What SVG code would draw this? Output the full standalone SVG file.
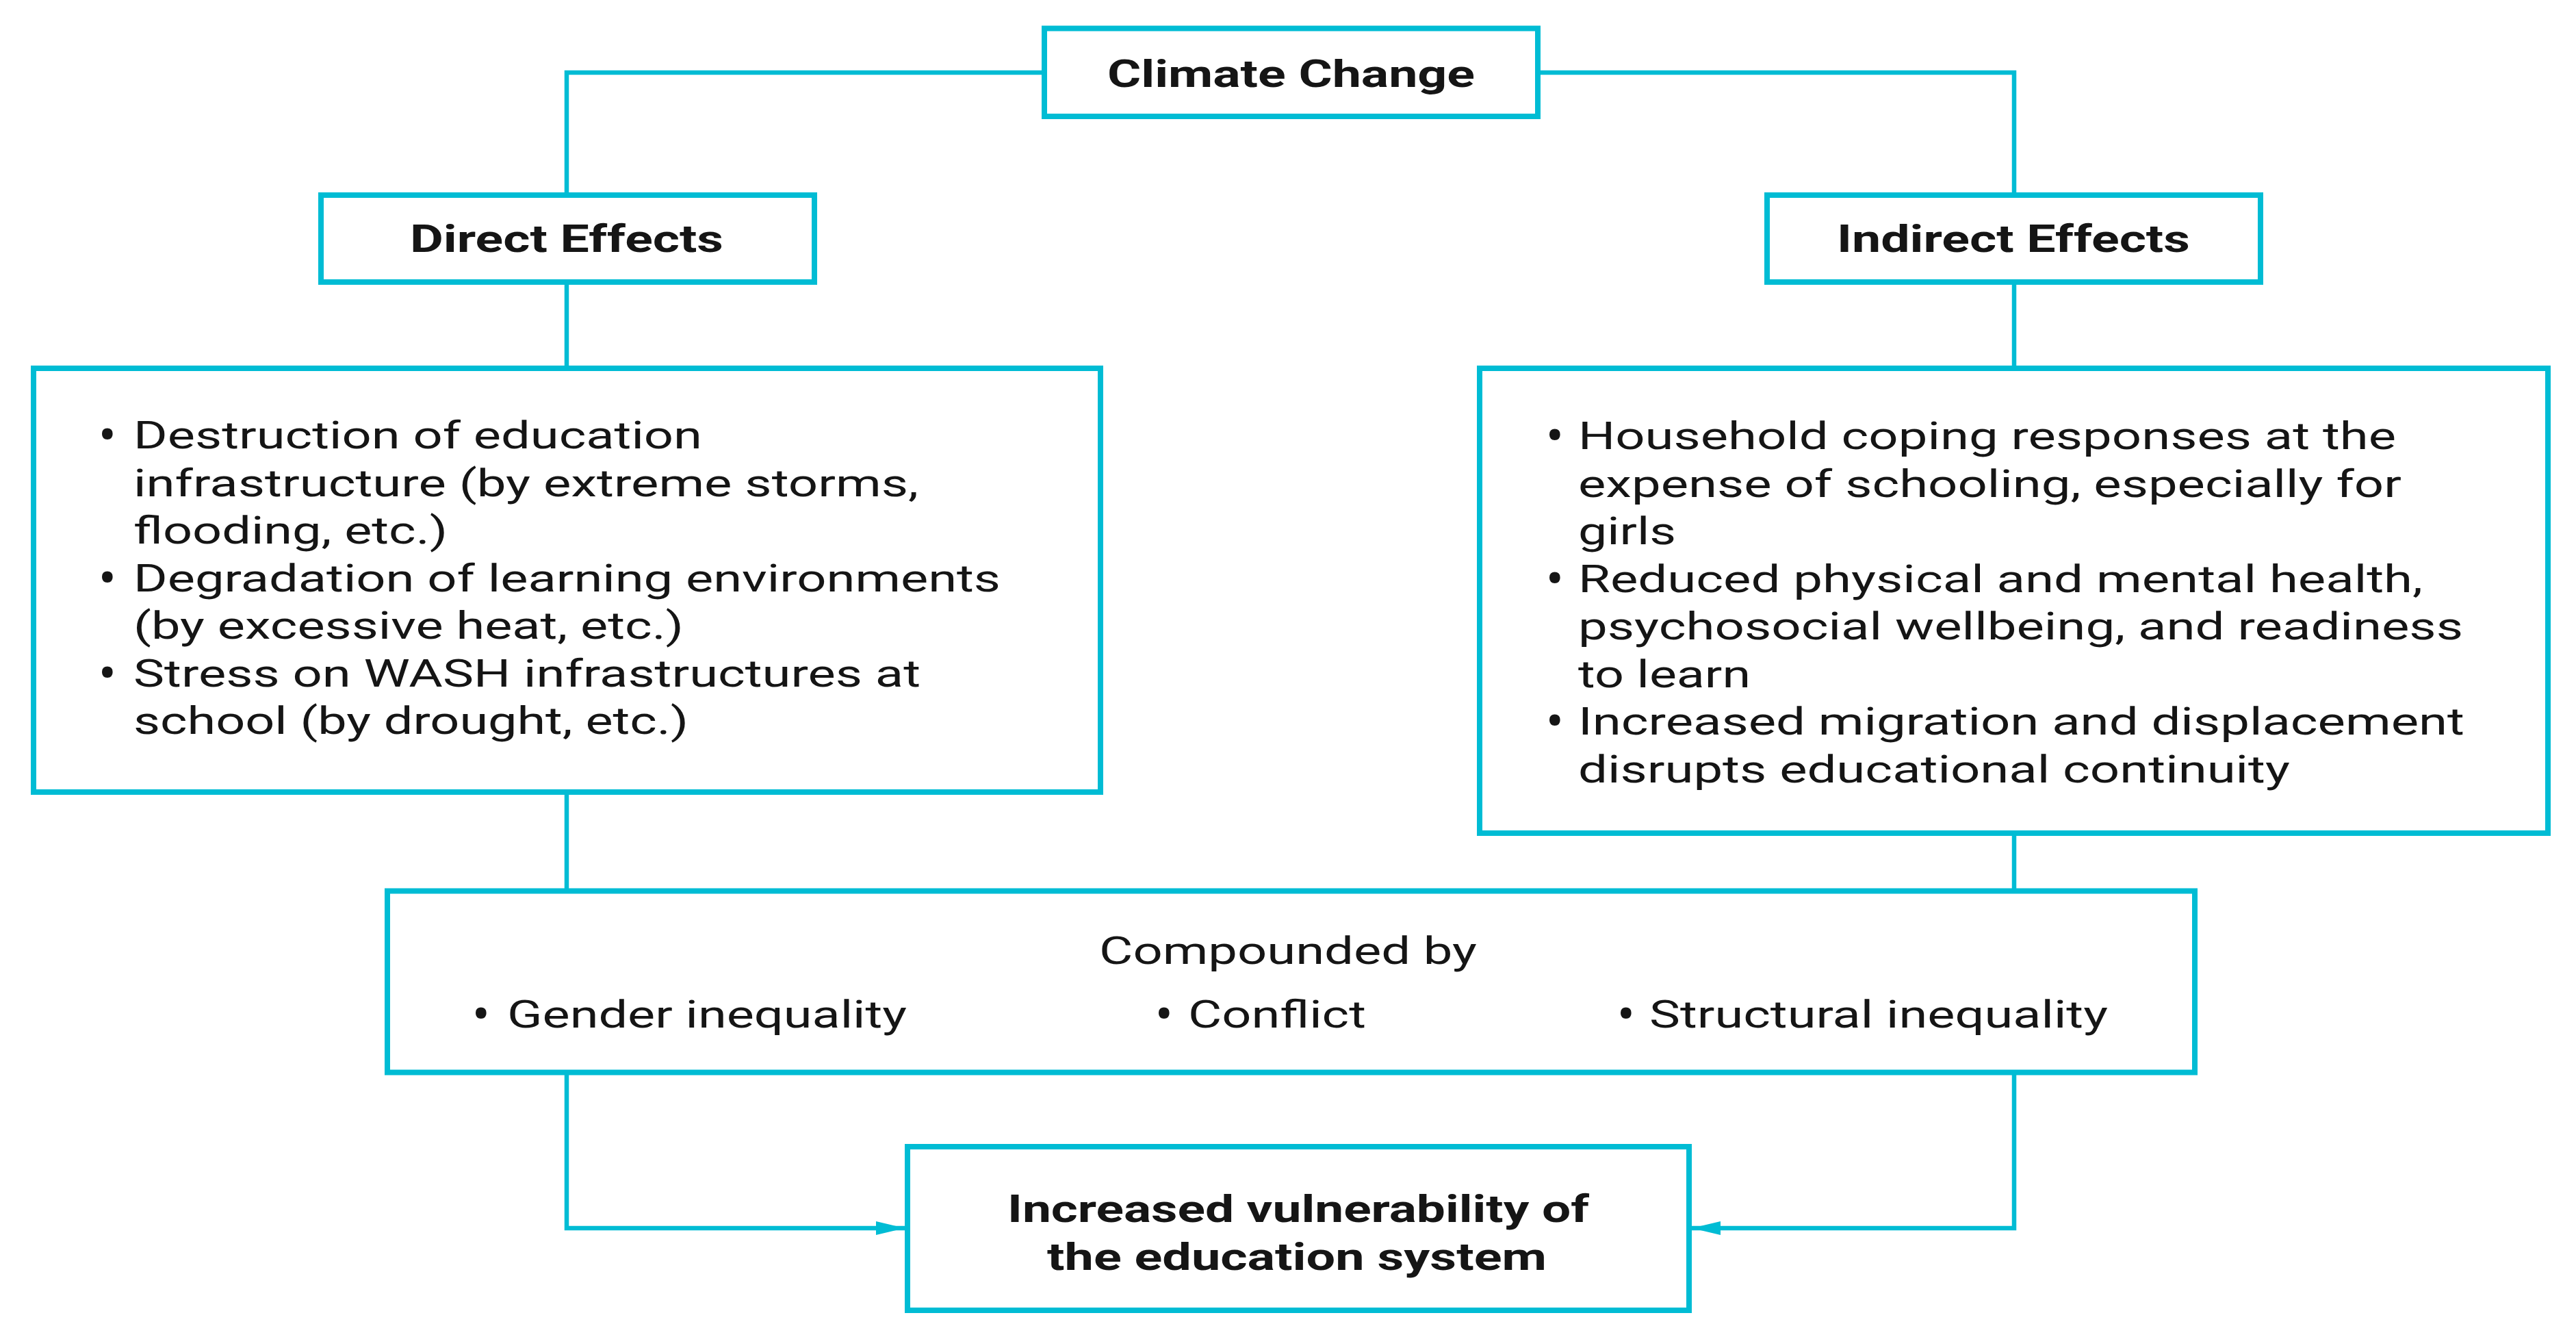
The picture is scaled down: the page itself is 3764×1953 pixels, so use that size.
<svg xmlns="http://www.w3.org/2000/svg" width="3764" height="1953" viewBox="0 0 3764 1953">
<style>
  .box { fill: #ffffff; stroke: #00bcd4; stroke-width: 8; }
  .conn { fill: none; stroke: #00bcd4; stroke-width: 6.5; }
  text { font-family: Roboto, "Liberation Sans", sans-serif; font-size: 56px; fill: #151515; }
  .title { font-weight: 700; }
  .bul { font-size: 78px; text-anchor: middle; }
</style>
<defs>
  <marker id="arrow" markerUnits="userSpaceOnUse" markerWidth="44" markerHeight="22" refX="42" refY="11" orient="auto">
    <path d="M0,1 L42,11 L0,21 Z" fill="#00bcd4"/>
  </marker>
</defs>
<rect x="0" y="0" width="3764" height="1953" fill="#ffffff"/>

<g id="connectors">
  <path class="conn" d="M1526,106 H828 V285"/>
  <path class="conn" d="M2247,106 H2943 V285"/>
  <path class="conn" d="M828,412 V538"/>
  <path class="conn" d="M2943,412 V538"/>
  <path class="conn" d="M828,1157 V1301"/>
  <path class="conn" d="M2943,1217 V1301"/>
  <path class="conn" d="M828,1566 V1794 H1322" marker-end="url(#arrow)"/>
  <path class="conn" d="M2943,1566 V1794 H2472" marker-end="url(#arrow)"/>
</g>

<g id="climate-change">
  <rect class="box" x="1526" y="41.5" width="721" height="128.5"/>
  <text class="title" x="1618" y="127" textLength="537" lengthAdjust="spacingAndGlyphs">Climate Change</text>
</g>

<g id="direct-effects">
  <rect class="box" x="469" y="285" width="721" height="127"/>
  <text class="title" x="599" y="368" textLength="458" lengthAdjust="spacingAndGlyphs">Direct Effects</text>
</g>

<g id="indirect-effects">
  <rect class="box" x="2582" y="285" width="721" height="127"/>
  <text class="title" x="2684" y="368" textLength="516" lengthAdjust="spacingAndGlyphs">Indirect Effects</text>
</g>

<g id="direct-list">
  <rect class="box" x="49" y="538" width="1559" height="619"/>
  <text class="bul" x="157" y="662">•</text>
  <text x="195" y="655" textLength="831" lengthAdjust="spacingAndGlyphs">Destruction of education</text>
  <text x="195" y="724.5" textLength="1147" lengthAdjust="spacingAndGlyphs">infrastructure (by extreme storms,</text>
  <text x="195" y="794" textLength="459" lengthAdjust="spacingAndGlyphs">flooding, etc.)</text>
  <text class="bul" x="157" y="870.5">•</text>
  <text x="195" y="863.5" textLength="1267" lengthAdjust="spacingAndGlyphs">Degradation of learning environments</text>
  <text x="195" y="933" textLength="804" lengthAdjust="spacingAndGlyphs">(by excessive heat, etc.)</text>
  <text class="bul" x="157" y="1009.5">•</text>
  <text x="195" y="1002.5" textLength="1150" lengthAdjust="spacingAndGlyphs">Stress on WASH infrastructures at</text>
  <text x="195" y="1072" textLength="811" lengthAdjust="spacingAndGlyphs">school (by drought, etc.)</text>
</g>

<g id="indirect-list">
  <rect class="box" x="2162" y="538" width="1561" height="679"/>
  <text class="bul" x="2272" y="663">•</text>
  <text x="2306" y="656" textLength="1195" lengthAdjust="spacingAndGlyphs">Household coping responses at the</text>
  <text x="2306" y="725.5" textLength="1203" lengthAdjust="spacingAndGlyphs">expense of schooling, especially for</text>
  <text x="2306" y="795" textLength="143" lengthAdjust="spacingAndGlyphs">girls</text>
  <text class="bul" x="2272" y="871.5">•</text>
  <text x="2306" y="864.5" textLength="1234" lengthAdjust="spacingAndGlyphs">Reduced physical and mental health,</text>
  <text x="2306" y="934" textLength="1293" lengthAdjust="spacingAndGlyphs">psychosocial wellbeing, and readiness</text>
  <text x="2306" y="1003.5" textLength="252" lengthAdjust="spacingAndGlyphs">to learn</text>
  <text class="bul" x="2272" y="1080">•</text>
  <text x="2306" y="1073" textLength="1295" lengthAdjust="spacingAndGlyphs">Increased migration and displacement</text>
  <text x="2306" y="1142.5" textLength="1040" lengthAdjust="spacingAndGlyphs">disrupts educational continuity</text>
</g>

<g id="compounded-by">
  <rect class="box" x="566" y="1301.5" width="2641" height="265"/>
  <text x="1606" y="1408" textLength="552" lengthAdjust="spacingAndGlyphs">Compounded by</text>
  <text class="bul" x="703" y="1508">•</text>
  <text x="741" y="1501" textLength="584" lengthAdjust="spacingAndGlyphs">Gender inequality</text>
  <text class="bul" x="1701" y="1508">•</text>
  <text x="1736" y="1501" textLength="260" lengthAdjust="spacingAndGlyphs">Conflict</text>
  <text class="bul" x="2376" y="1508">•</text>
  <text x="2410" y="1501" textLength="670" lengthAdjust="spacingAndGlyphs">Structural inequality</text>
</g>

<g id="increased-vulnerability">
  <rect class="box" x="1326" y="1675" width="1142" height="239"/>
  <text class="title" x="1472" y="1785" textLength="850" lengthAdjust="spacingAndGlyphs">Increased vulnerability of</text>
  <text class="title" x="1530" y="1855" textLength="730" lengthAdjust="spacingAndGlyphs">the education system</text>
</g>
</svg>
